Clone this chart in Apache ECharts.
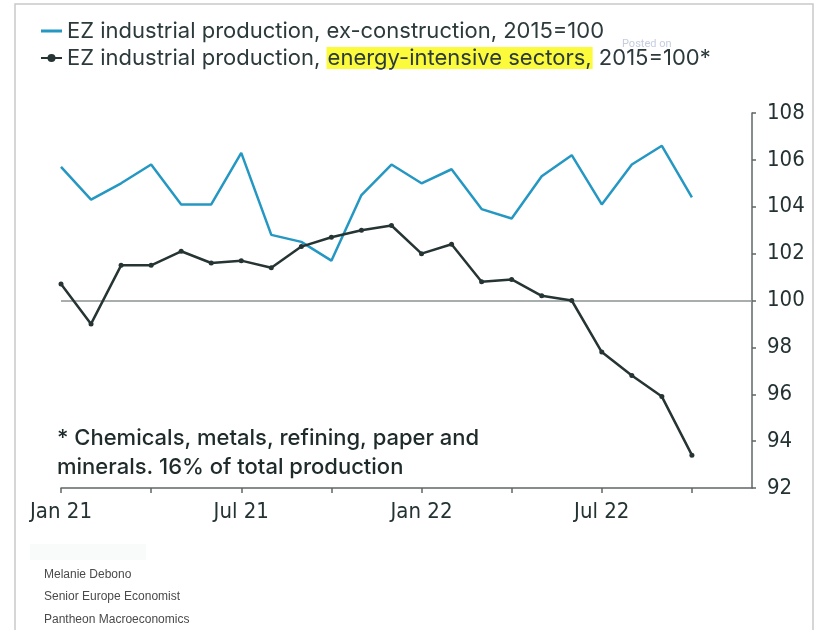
<!DOCTYPE html>
<html>
<head>
<meta charset="utf-8">
<script src="https://cdn.jsdelivr.net/npm/echarts@6/dist/echarts.min.js"></script>
<style>
  html, body { margin: 0; padding: 0; background: #ffffff; }
  #chart { width: 818px; height: 630px; }
</style>
</head>
<body>
<div id="chart"></div>
<script>
// Months on the x axis, Jan 2021 to Dec 2022
const months = [
  'Jan 21','Feb 21','Mar 21','Apr 21','May 21','Jun 21','Jul 21','Aug 21','Sep 21','Oct 21','Nov 21','Dec 21',
  'Jan 22','Feb 22','Mar 22','Apr 22','May 22','Jun 22','Jul 22','Aug 22','Sep 22','Oct 22','Nov 22','Dec 22'
];
// Eurozone industrial production indices, 2015=100
const exConstruction = [105.7, 104.3, 105.0, 105.8, 104.1, 104.1, 106.3, 102.8, 102.5, 101.7, 104.5, 105.8,
                        105.0, 105.6, 103.9, 103.5, 105.3, 106.2, 104.1, 105.8, 106.6, 104.4];
const energyIntensive = [100.7, 99.0, 101.5, 101.5, 102.1, 101.6, 101.7, 101.4, 102.3, 102.7, 103.0, 103.2,
                         102.0, 102.4, 100.8, 100.9, 100.2, 100.0, 97.8, 96.8, 95.9, 93.4];
const seriesNames = [
  'EZ industrial production, ex-construction, 2015=100',
  'EZ industrial production, energy-intensive sectors, 2015=100*'
];
const highlighted = 'energy-intensive sectors,';
const yTicks = { min: 92, max: 108, step: 2 };
const baseline = 100;
const footnote = ['* Chemicals, metals, refining, paper and', 'minerals. 16% of total production'];
const byline = ['Melanie Debono', 'Senior Europe Economist', 'Pantheon Macroeconomics'];

const ink = '#263434';
const blue = '#2497c2';
const axisGrey = '#5f6666';
const textInk = '#243233';
const labelFont = '"Liberation Sans Narrow", "DejaVu Sans Condensed", "Liberation Sans", Arial, sans-serif';
const bodyFont = 'Inter, "Open Sans", Roboto, sans-serif';

const chart = echarts.init(document.getElementById('chart'), null, { renderer: 'canvas' });

chart.setOption({
  animation: false,
  backgroundColor: '#ffffff',
  grid: { left: 61, right: 66, top: 113, bottom: 142, containLabel: false },
  legend: {
    orient: 'vertical',
    left: 40,
    top: 20,
    padding: 0,
    itemWidth: 21,
    itemHeight: 10,
    itemGap: 5,
    selectedMode: false,
    data: [
      { name: seriesNames[0], icon: 'path://M0,0H21V3H0Z' },
      { name: seriesNames[1] }
    ],
    formatter: function (name) {
      const i = name.indexOf(highlighted);
      if (i < 0) return '{a|' + name + '}';
      return '{a|' + name.slice(0, i) + '}{h|' + highlighted + '}{a|' + name.slice(i + highlighted.length) + '}';
    },
    textStyle: {
      rich: {
        a: { fontFamily: bodyFont, fontSize: 22, color: '#2c3a3c', lineHeight: 25 },
        h: { fontFamily: bodyFont, fontSize: 22, color: '#2c3a3c', lineHeight: 25,
             backgroundColor: '#fbfb3c', padding: [0, 1, 0, 1] }
      }
    }
  },
  xAxis: {
    type: 'category',
    data: months,
    boundaryGap: false,
    axisLine: { show: true, lineStyle: { color: axisGrey, width: 1.5 } },
    axisTick: { show: true, length: 5, interval: function (i) { return i % 3 === 0; },
                lineStyle: { color: axisGrey, width: 1.5 } },
    axisLabel: {
      interval: function (i) { return i % 6 === 0; },
      margin: 13,
      fontFamily: labelFont,
      fontSize: 22,
      color: textInk
    },
    splitLine: { show: false }
  },
  yAxis: {
    type: 'value',
    position: 'right',
    min: yTicks.min,
    max: yTicks.max,
    interval: yTicks.step,
    axisLine: { show: true, lineStyle: { color: axisGrey, width: 1.5 } },
    axisTick: { show: true, length: 4, lineStyle: { color: axisGrey, width: 1.5 } },
    axisLabel: {
      margin: 15,
      fontFamily: labelFont,
      fontSize: 22,
      color: textInk
    },
    splitLine: { show: false }
  },
  series: [
    {
      name: seriesNames[0],
      type: 'line',
      data: exConstruction,
      symbol: 'none',
      lineStyle: { color: blue, width: 2.5 },
      itemStyle: { color: blue },
      z: 3
    },
    {
      name: seriesNames[1],
      type: 'line',
      data: energyIntensive,
      symbol: 'circle',
      symbolSize: 5,
      lineStyle: { color: ink, width: 2.5 },
      itemStyle: { color: ink },
      z: 4,
      markLine: {
        silent: true,
        symbol: ['none', 'none'],
        label: { show: false },
        lineStyle: { color: '#8b9393', width: 1.5, type: 'solid' },
        data: [{ yAxis: baseline }],
        z: 1
      }
    }
  ],
  graphic: [
    {
      type: 'rect',
      shape: { x: 15, y: 4, width: 798, height: 700 },
      style: { fill: 'none', stroke: '#c9c9c9', lineWidth: 1.5 },
      silent: true, z: -1
    },
    {
      type: 'rect',
      shape: { x: 30, y: 544, width: 116, height: 16 },
      style: { fill: '#f9fafa' },
      silent: true, z: -1
    },
    {
      type: 'text',
      left: 622, top: 39,
      style: { text: 'Posted on', fontFamily: 'Roboto, sans-serif', fontSize: 11, fill: '#c6cde0' },
      silent: true
    },
    {
      type: 'text',
      left: 57, top: 424,
      style: {
        text: footnote.join('\n'),
        fontFamily: bodyFont,
        fontSize: 22,
        fontWeight: 500,
        lineHeight: 29,
        fill: '#1f2b2b'
      }
    },
    {
      type: 'text',
      left: 44, top: 563,
      style: {
        text: byline.join('\n'),
        fontFamily: '"Liberation Sans", Arial, sans-serif',
        fontSize: 12,
        lineHeight: 22.5,
        fill: '#4a4a4a'
      }
    }
  ]
});
</script>
</body>
</html>
